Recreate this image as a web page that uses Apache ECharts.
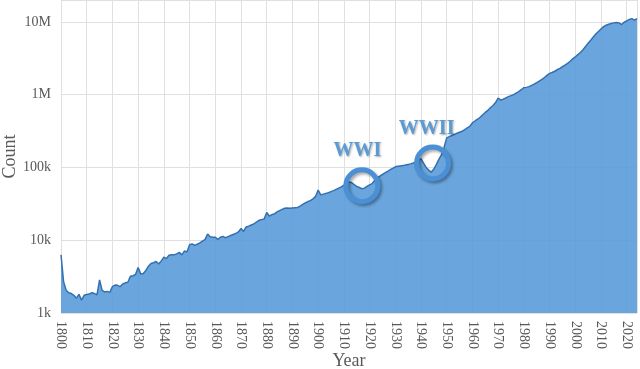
<!DOCTYPE html>
<html>
<head>
<meta charset="utf-8">
<style>
  html, body { margin: 0; padding: 0; background: #fff; }
  #chart { width: 640px; height: 369px; }
</style>
<script src="https://cdn.jsdelivr.net/npm/echarts@6/dist/echarts.min.js"></script>
</head>
<body>
<div id="chart"></div>
<script>
// yearly counts
const startYear = 1800;
const counts = [
  6300, 2700, 2050, 1900, 1850, 1750, 1600, 1800, 1500, 1750,        // 1800s
  1800, 1820, 1900, 1850, 1780, 2850, 2050, 1950, 1980, 1920,        // 1810s
  2300, 2420, 2400, 2300, 2500, 2600, 2650, 3200, 3250, 3400,        // 1820s
  4200, 3450, 3500, 3850, 4400, 4800, 4900, 5100, 4700, 5200,        // 1830s
  5850, 5600, 6200, 6300, 6300, 6500, 6800, 6300, 7100, 6900,        // 1840s
  8700, 8900, 8500, 8800, 9200, 9700, 10200, 12200, 11200, 11000,    // 1850s
  11000, 10300, 11000, 11300, 10800, 11200, 11600, 12000, 12400, 13000,
  14500, 13200, 15200, 15600, 16200, 16800, 17800, 18800, 19200, 19600,
  24000, 21500, 22500, 23000, 24500, 25500, 26500, 27500, 27800, 27600,
  27800, 28000, 28200, 29500, 31000, 32500, 34000, 35000, 37000, 40000,
  49000, 42000, 43000, 44000, 45000, 46500, 48000, 50000, 52000, 54000,   // 1900s
  57000, 60000, 63000, 62000, 58000, 55000, 53000, 51000, 52000, 55000,   // 1910s
  57500, 60000, 66000, 72000, 76000, 80000, 84000, 88000, 93000, 97000,
  102000, 104000, 105000, 106000, 108000, 110000, 112000, 115000, 119000, 125000,
  132000, 115000, 100000, 92000, 86000, 95000, 110000, 130000, 150000, 190000,
  255000, 265000, 275000, 285000, 295000, 305000, 314000, 330000, 350000, 368000,
  410000, 435000, 460000, 490000, 530000, 570000, 610000, 660000, 710000, 780000,
  900000, 840000, 870000, 900000, 940000, 970000, 1000000, 1050000, 1100000, 1170000,
  1250000, 1260000, 1290000, 1340000, 1400000, 1460000, 1540000, 1620000, 1720000, 1840000,
  1960000, 2020000, 2100000, 2200000, 2300000, 2420000, 2550000, 2700000, 2880000, 3100000,
  3300000, 3550000, 3800000, 4150000, 4600000, 5100000, 5600000, 6200000, 6800000, 7400000,
  8000000, 8600000, 9000000, 9300000, 9500000, 9700000, 9800000, 9700000, 9200000, 9900000,
  10300000, 10800000, 11100000, 10600000, 11100000
];
const yTickLabels = ["1k", "10k", "100k", "1M", "10M"];

// war annotations: [year, count]
const warNames = ["WWI", "WWII"];
const warCircles = [[1917, 56000], [1944.5, 115000]];
const warLabels = [[1915.3, 170000], [1942.2, 342000]];

const points = counts.map((v, i) => [startYear + i, v]);
const lastYear = startYear + counts.length - 1;

const font = "'Liberation Serif', 'DejaVu Serif', serif";
const grey = "#595959";

const chart = echarts.init(document.getElementById("chart"));

chart.setOption({
  animation: false,
  backgroundColor: "#fff",
  textStyle: { fontFamily: font },
  grid: { left: 61, right: 3, top: 0, bottom: 56, outerBoundsMode: "none", containLabel: false },
  xAxis: {
    type: "value",
    min: startYear,
    max: lastYear,
    interval: 10,
    name: "Year",
    nameLocation: "middle",
    nameGap: 39,
    nameMoveOverlap: false,
    nameTextStyle: { fontSize: 18, color: grey, fontFamily: font },
    axisLine: { show: false },
    axisTick: { show: false },
    axisLabel: {
      rotate: -90,
      margin: 8,
      fontSize: 14,
      color: grey,
      fontFamily: font,
      showMaxLabel: false,
      formatter: (v) => String(v)
    },
    splitLine: { show: true, lineStyle: { color: "#e0e0e0", width: 1 } }
  },
  yAxis: {
    type: "log",
    logBase: 10,
    min: 1000,
    max: 20000000,
    name: "Count",
    nameLocation: "middle",
    nameGap: 42,
    nameMoveOverlap: false,
    nameTextStyle: { fontSize: 18, color: grey, fontFamily: font },
    axisLine: { show: false },
    axisTick: { show: false },
    axisLabel: {
      margin: 10,
      fontSize: 14,
      color: grey,
      fontFamily: font,
      showMaxLabel: false,
      formatter: (v) => {
        const k = Math.round(Math.log10(v)) - 3;
        return yTickLabels[k] || "";
      }
    },
    splitLine: { show: true, lineStyle: { color: "#e0e0e0", width: 1 } }
  },
  series: [
    {
      type: "line",
      data: points,
      symbol: "none",
      lineStyle: { color: "#3470b0", width: 1.5 },
      areaStyle: { color: "#5a9cd9", opacity: 0.9 },
      markPoint: {
        silent: true,
        data: [
          ...warCircles.map((c) => ({
            coord: c,
            symbol: "circle",
            symbolSize: 32,
            itemStyle: {
              color: "rgba(0,0,0,0)",
              borderColor: "#4a90d6",
              borderWidth: 5,
              shadowColor: "rgba(0,0,0,0.35)",
              shadowBlur: 3,
              shadowOffsetX: 2,
              shadowOffsetY: 2
            },
            label: { show: false }
          })),
          ...warLabels.map((c, i) => ({
            coord: c,
            name: warNames[i],
            symbol: "circle",
            symbolSize: 1,
            itemStyle: { color: "rgba(0,0,0,0)" },
            label: {
              show: true,
              position: "inside",
              formatter: warNames[i],
              fontSize: 20,
              fontWeight: "bold",
              fontFamily: font,
              color: "#5b9bd5",
              textShadowColor: "rgba(0,0,0,0.35)",
              textShadowBlur: 2,
              textShadowOffsetX: 1,
              textShadowOffsetY: 1
            }
          }))
        ]
      }
    }
  ]
});
</script>
</body>
</html>
